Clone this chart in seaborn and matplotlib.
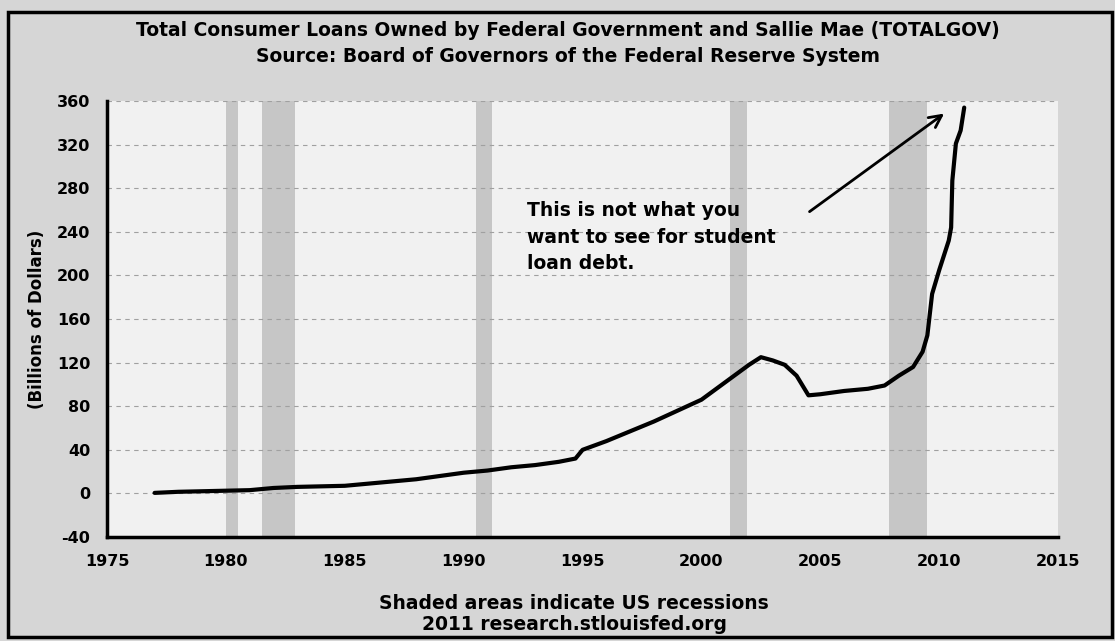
import pandas as pd
import numpy as np
import matplotlib
matplotlib.use("Agg")
import matplotlib.pyplot as plt
import seaborn as sns
from matplotlib.patches import Rectangle

# values (billions of dollars)
years = [1977.0, 1978.0, 1979.0, 1980.0, 1981.0, 1982.0, 1983.0, 1984.0,
         1985.0, 1986.0, 1987.0, 1988.0, 1989.0, 1990.0, 1991.0, 1992.0,
         1993.0, 1994.0, 1994.7, 1995.0, 1996.0, 1997.0, 1998.0, 1999.0,
         2000.0, 2001.0, 2002.0, 2002.5, 2003.0, 2003.5, 2004.0, 2004.5,
         2005.0, 2006.0, 2007.0, 2007.7, 2008.3, 2008.9, 2009.3, 2009.5,
         2009.7, 2010.0, 2010.4, 2010.5, 2010.55, 2010.7, 2010.9, 2011.05]
loans = [0.5, 1.5, 2, 2.5, 3, 5, 6, 6.5,
         7, 9, 11, 13, 16, 19, 21, 24,
         26, 29, 32, 40, 48, 57, 66, 76,
         86, 102, 118, 125, 122, 118, 108, 90,
         91, 94, 96, 99, 108, 116, 130, 145,
         183, 205, 232, 244, 287, 321, 333, 354]

recession_start = [1980.0, 1981.5, 1990.5, 2001.2, 2007.9]
recession_end = [1980.5, 1982.9, 1991.2, 2001.9, 2009.5]

x_ticks = [1975, 1980, 1985, 1990, 1995, 2000, 2005, 2010, 2015]
y_ticks = [-40, 0, 40, 80, 120, 160, 200, 240, 280, 320, 360]

df = pd.DataFrame({"year": years, "loans": loans})

sns.set_style("white")
plt.rcParams['font.family'] = ['DejaVu Sans']
plt.rcParams['font.weight'] = 'bold'
plt.rcParams['text.color'] = 'black'
plt.rcParams['axes.labelcolor'] = 'black'
plt.rcParams['xtick.color'] = 'black'
plt.rcParams['ytick.color'] = 'black'
plt.rcParams['axes.unicode_minus'] = False

fig = plt.figure(figsize=(11.15, 6.41), dpi=100, facecolor='#d6d6d6')
ax = fig.add_axes([0.096, 0.1622, 0.853, 0.6802])
ax.set_facecolor('#f1f1f1')

for s, e in zip(recession_start, recession_end):
    ax.axvspan(s, e, color='#c6c6c6', lw=0, zorder=1)

for v in y_ticks[1:]:
    ax.axhline(v, color='#a0a0a0', lw=0.8, ls=(0, (4, 4)), zorder=1.5)

sns.lineplot(data=df, x="year", y="loans", ax=ax, color='black', lw=3, zorder=3)

ax.set_xlim(1975, 2015)
ax.set_ylim(-40, 360)
ax.set_xticks(x_ticks)
ax.set_yticks(y_ticks)
ax.tick_params(direction='in', length=8, width=1.6, labelsize=11.5)
ax.tick_params(axis='x', pad=12)
ax.tick_params(axis='y', pad=12)
for lab in ax.get_xticklabels() + ax.get_yticklabels():
    lab.set_fontweight('bold')
ax.set_xlabel("")
ax.set_ylabel("(Billions of Dollars)", fontsize=12, fontweight='bold', labelpad=8)
for side in ['top', 'right']:
    ax.spines[side].set_visible(False)
for side in ['left', 'bottom']:
    ax.spines[side].set_linewidth(2.5)
    ax.spines[side].set_color('black')

ax.text(1992.66, 268, "This is not what you\nwant to see for student\nloan debt.",
        fontsize=13.5, fontweight='bold', va='top', ha='left', linespacing=1.5, zorder=4)
ax.annotate("", xy=(2010.3, 350), xytext=(2004.45, 257),
            arrowprops=dict(arrowstyle='->', color='black', lw=2, mutation_scale=22),
            zorder=4)

fig.text(0.509, 0.953, "Total Consumer Loans Owned by Federal Government and Sallie Mae (TOTALGOV)",
         ha='center', va='center', fontsize=13.5, fontweight='bold')
fig.text(0.509, 0.912, "Source: Board of Governors of the Federal Reserve System",
         ha='center', va='center', fontsize=13.5, fontweight='bold')
fig.text(0.515, 0.059, "Shaded areas indicate US recessions",
         ha='center', va='center', fontsize=13.5, fontweight='bold')
fig.text(0.515, 0.025, "2011 research.stlouisfed.org",
         ha='center', va='center', fontsize=13.5, fontweight='bold')

fig.patches.append(Rectangle((8 / 1115, 4 / 641), 1104 / 1115, 625 / 641,
                             transform=fig.transFigure, fill=False,
                             edgecolor='black', lw=2.5))

fig.savefig("out.png", dpi=100, facecolor=fig.get_facecolor())
